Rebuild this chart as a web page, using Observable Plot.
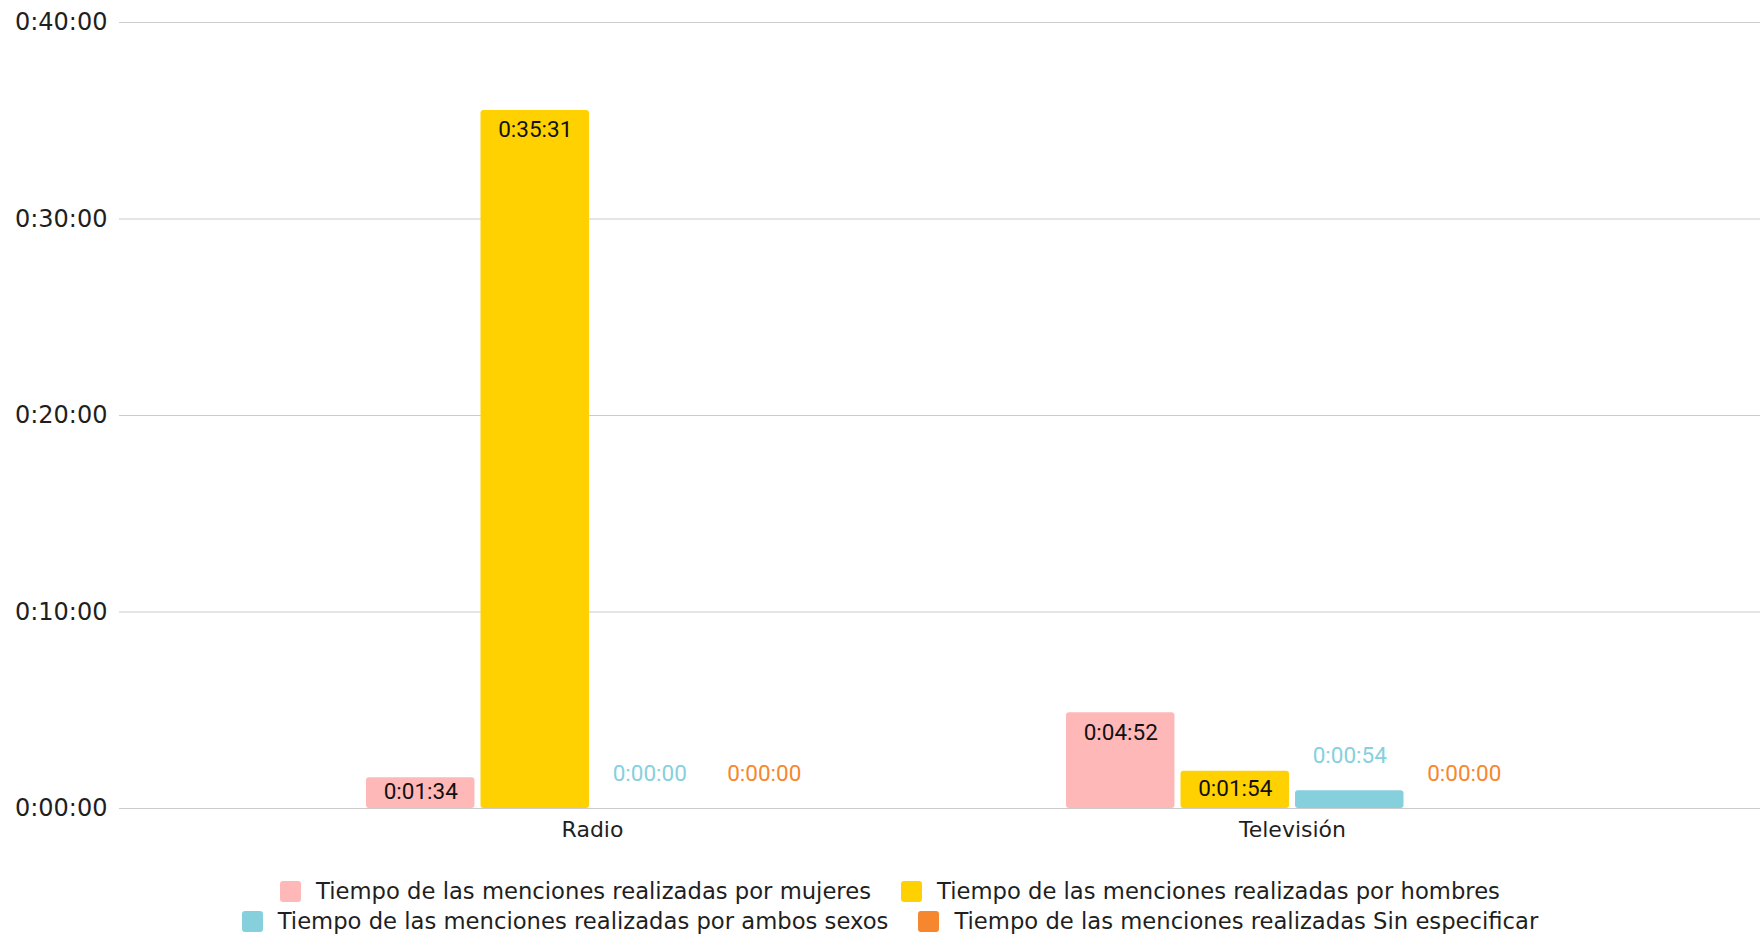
<!DOCTYPE html>
<html>
<head>
<meta charset="utf-8">
<script src="https://cdn.jsdelivr.net/npm/d3@7"></script>
<script src="https://cdn.jsdelivr.net/npm/@observablehq/plot@0.6"></script>
<style>
  html, body { margin: 0; padding: 0; background: #fff; }
  #chart svg { display: block; }
  #chart svg [aria-label="y-axis tick label"] { font-size: 24px; }
  #legend {
    width: 1320px; margin-left: 230px; margin-top: 21px;
    display: flex; flex-wrap: wrap; justify-content: center; column-gap: 30px;
    font-family: "DejaVu Sans", Verdana, sans-serif; font-size: 22.7px; color: #1f1f1f;
  }
  .item { display: flex; align-items: center; height: 30px; }
  .sw { width: 21px; height: 21px; border-radius: 3px; margin-right: 15px; }
</style>
</head>
<body>
<div id="chart"></div>
<div id="legend"></div>
<script>
const categories = ["Radio", "Televisión"];
const seriesNames = [
  "Tiempo de las menciones realizadas por mujeres",
  "Tiempo de las menciones realizadas por hombres",
  "Tiempo de las menciones realizadas por ambos sexos",
  "Tiempo de las menciones realizadas Sin especificar"
];
const seriesColors = ["#ffb8b8", "#ffd100", "#86d0de", "#f6872e"];
// values in seconds, per category
const mujeres = [94, 292];
const hombres = [2131, 114];
const ambosSexos = [0, 54];
const sinEspecificar = [0, 0];
const yTicks = [0, 600, 1200, 1800, 2400];
const seriesValues = [mujeres, hombres, ambosSexos, sinEspecificar];

const pad = n => String(n).padStart(2, "0");
const fmt = s => `${Math.floor(s / 3600)}:${pad(Math.floor((s % 3600) / 60))}:${pad(s % 60)}`;

const data = [];
categories.forEach((c, i) => seriesNames.forEach((s, j) => data.push({category: c, series: s, j, value: seriesValues[j][i]})));

const width = 1760, height = 855;
const marginLeft = 119, marginRight = 0, marginTop = 22, marginBottom = 47;
const yDomain = [0, 2400];
const paddingInner = 0.354, paddingOuter = 0.3485, align = 0.506;
const bw = Plot.scale({x: {type: "band", domain: categories, range: [marginLeft, width - marginRight], paddingInner, paddingOuter, align}}).bandwidth;
const gap = 5.6;
const slot = (bw + gap) / 4;
const barW = slot - gap;
const insideMin = 60;
// label offset below bar top, expressed in data units via the y scale
const yPx = Plot.scale({y: {type: "linear", domain: yDomain, range: [height - marginBottom, marginTop]}});
const secPerPx = (yDomain[1] - yDomain[0]) / (yPx.range[0] - yPx.range[1]);
const insideOffset = 21 * secPerPx;

const marks = [Plot.ruleY(yTicks, {stroke: "#cccccc", strokeWidth: 1.2})];
seriesNames.forEach((s, j) => {
  const d = data.filter(r => r.j === j);
  marks.push(Plot.barY(d, {x: "category", y: "value", fill: seriesColors[j], insetLeft: j * slot, insetRight: (3 - j) * slot, rx: 3}));
  const dx = -bw / 2 + j * slot + barW / 2;
  marks.push(Plot.text(d.filter(r => r.value >= insideMin), {x: "category", y: r => Math.max(r.value / 2, r.value - insideOffset), text: r => fmt(r.value), dx, dy: -1.5, fill: "#111", fontFamily: "Roboto", fontSize: 22.5}));
  marks.push(Plot.text(d.filter(r => r.value < insideMin), {x: "category", y: "value", text: r => fmt(r.value), dx, dy: -35, fill: seriesColors[j], fontFamily: "Roboto", fontSize: 22.5}));
});

const chart = Plot.plot({
  width, height, marginLeft, marginRight, marginTop, marginBottom,
  style: {fontFamily: "DejaVu Sans, Verdana, sans-serif", fontSize: "22px", color: "#1f1f1f", background: "#fff"},
  x: {domain: categories, paddingInner, paddingOuter, align, tickSize: 0, tickPadding: 13, label: null},
  y: {domain: yDomain, ticks: yTicks, tickFormat: fmt, tickSize: 0, tickPadding: 12, label: null},
  marks
});
chart.querySelectorAll('[aria-label="y-axis"] text, [aria-label="y-axis tick label"] text').forEach(t => t.style.fontSize = "24px");
document.getElementById("chart").appendChild(chart);

const legend = document.getElementById("legend");
seriesNames.forEach((s, j) => {
  const it = document.createElement("div");
  it.className = "item";
  const sw = document.createElement("span");
  sw.className = "sw";
  sw.style.background = seriesColors[j];
  const t = document.createElement("span");
  t.textContent = s;
  it.appendChild(sw); it.appendChild(t);
  legend.appendChild(it);
});
</script>
</body>
</html>
